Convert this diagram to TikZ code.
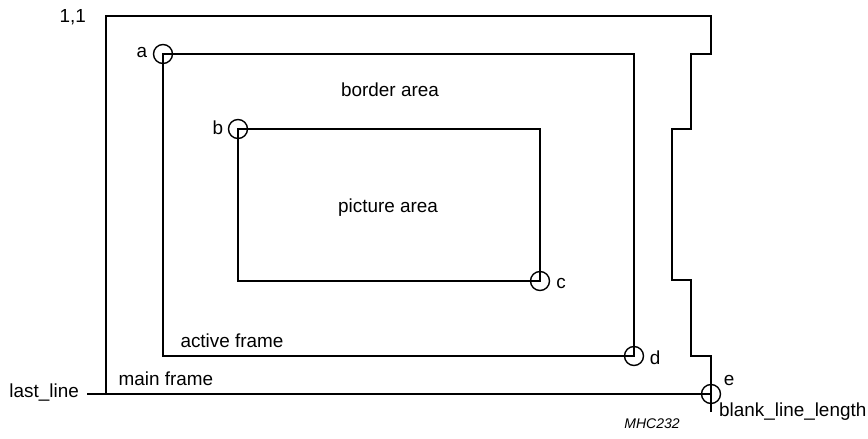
\documentclass[tikz,border=0pt]{standalone}
\usepackage{fontspec}
\setmainfont{Liberation Sans}
\begin{document}
\begin{tikzpicture}[x=1pt,y=-1pt,
  frame/.style={line width=1.7pt},
  corner/.style={circle,draw,line width=1.4pt,minimum size=19pt,inner sep=0pt},
  lbl/.style={inner sep=0pt,font=\fontsize{18.9}{20}\selectfont},
  tag/.style={inner sep=0pt,font=\fontsize{14}{16}\selectfont\itshape}]
\useasboundingbox (0,0) rectangle (868,439);
% main frame coordinates
\coordinate (m1) at (106,16);
\coordinate (m2) at (711,16);
\coordinate (m3) at (711,54);
\coordinate (m4) at (691,54);
\coordinate (m5) at (691,129);
\coordinate (m6) at (672,129);
\coordinate (m7) at (672,280);
\coordinate (m8) at (691,280);
\coordinate (m9) at (691,356);
\coordinate (m10) at (711,356);
\coordinate (m11) at (711,412);
\coordinate (me) at (711,394);
\coordinate (ml) at (106,394);
\coordinate (ll) at (87,394);
% corners
\coordinate (pa) at (163,54);
\coordinate (pd) at (634,356);
\coordinate (pb) at (238,129);
\coordinate (pc) at (540,281);
\draw[frame] (m11) -- (m10) -- (m9) -- (m8) -- (m7) -- (m6) -- (m5) -- (m4) -- (m3) -- (m2) -- (m1) -- (ml);
\draw[frame] (ll) -- (me);
\draw[frame] (pa) rectangle (pd);
\draw[frame] (pb) rectangle (pc);
\node[corner] (ca) at (pa) {};
\node[corner] (cb) at (pb) {};
\node[corner] (cc) at (pc) {};
\node[corner] (cd) at (pd) {};
\node[corner] (ce) at (me) {};
% labels
\node[lbl,anchor=east] (t11) at (86,17) {1,1};
\node[lbl] (ta) at (142,53) {a};
\node[lbl] (tb) at (218,128) {b};
\node[lbl] (tc) at (561,284) {c};
\node[lbl] (td) at (655,358) {d};
\node[lbl] (te) at (729,381) {e};
\node[lbl] (tborder) at (390,90) {border area};
\node[lbl] (tpict) at (388,208) {picture area};
\node[lbl] (tactive) at (232,341) {active frame};
\node[lbl] (tmain) at (166,379) {main frame};
\node[lbl,anchor=east] (tlast) at (79,393) {last\_line};
\node[lbl,anchor=west] (tblank) at (719,412) {blank\_line\_length};
\node[tag] (tmhc) at (652,424) {MHC232};
\end{tikzpicture}
\end{document}
